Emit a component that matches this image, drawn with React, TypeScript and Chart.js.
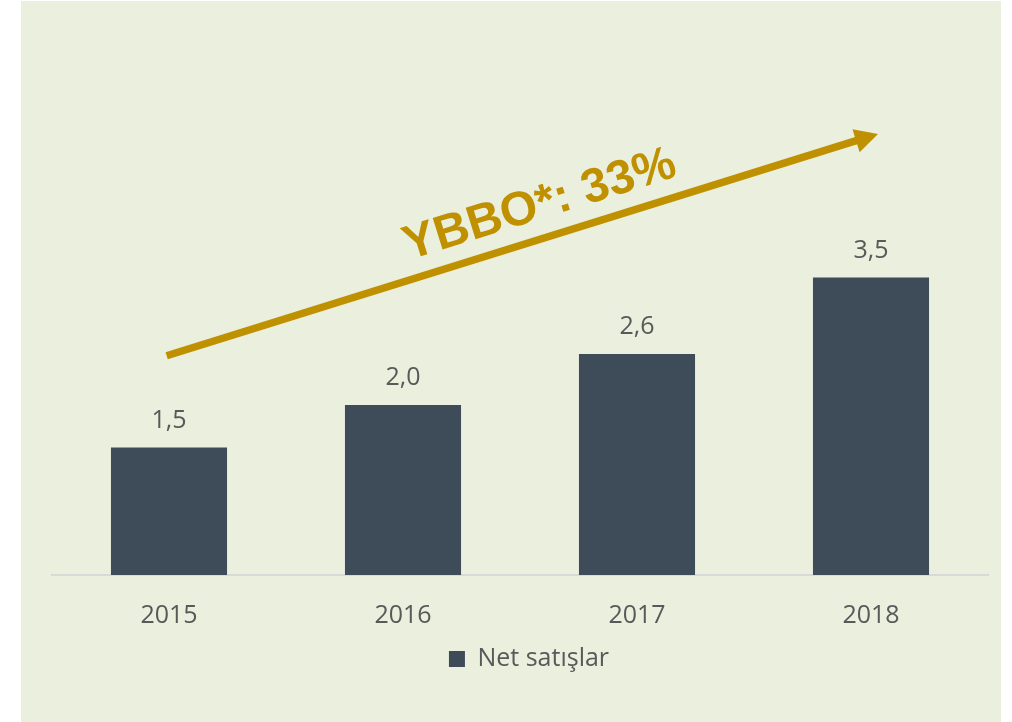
import React, { useEffect, useRef } from "react";
import { Chart, registerables } from "chart.js";

Chart.register(...registerables);

const categories: string[] = ["2015", "2016", "2017", "2018"];
const netSales: number[] = [1.5, 2.0, 2.6, 3.5];
const seriesLabel = "Net satışlar";
const growthLabel = "YBBO*: 33%";

const FONT = '"Open Sans", "DejaVu Sans", sans-serif';
const TEXT_COLOR = "#595959";
const BAR_COLOR = "#3E4C59";
const GOLD = "#BF9000";

const fmt = (v: number) => v.toFixed(1).replace(".", ",");

const panelPlugin = {
  id: "panel",
  beforeDraw(chart: any) {
    const ctx = chart.ctx;
    ctx.save();
    ctx.fillStyle = "#FFFFFF";
    ctx.fillRect(0, 0, chart.width, chart.height);
    ctx.fillStyle = "#EBEFDE";
    ctx.fillRect(21, 1, 980, chart.height - 1);
    ctx.restore();
  },
};

const legendShiftPlugin = {
  id: "legendShift",
  afterLayout(chart: any) {
    if (chart.legend) {
      chart.legend.left += 9;
      chart.legend.right += 9;
    }
  },
};

const valueLabelPlugin = {
  id: "valueLabels",
  afterDatasetsDraw(chart: any) {
    const ctx = chart.ctx;
    const meta = chart.getDatasetMeta(0);
    const values = chart.data.datasets[0].data as number[];
    ctx.save();
    ctx.fillStyle = TEXT_COLOR;
    ctx.font = `25px ${FONT}`;
    ctx.textAlign = "center";
    ctx.textBaseline = "middle";
    meta.data.forEach((bar: any, i: number) => {
      ctx.fillText(fmt(values[i]), bar.x, bar.y - 27);
    });
    ctx.restore();
  },
};

const growthArrowPlugin = {
  id: "growthArrow",
  afterDatasetsDraw(chart: any) {
    const xs = chart.scales.x;
    const ys = chart.scales.y;
    const ctx = chart.ctx;
    // annotation anchors in (category index, value) space
    const x0 = xs.getPixelForValue(-0.01);
    const y0 = ys.getPixelForValue(2.58);
    const x1 = xs.getPixelForValue(3.03);
    const y1 = ys.getPixelForValue(5.19);
    const ang = Math.atan2(y1 - y0, x1 - x0);
    const headLen = 23;
    const headHalf = 12;
    const bx = x1 - headLen * Math.cos(ang);
    const by = y1 - headLen * Math.sin(ang);
    ctx.save();
    ctx.strokeStyle = GOLD;
    ctx.fillStyle = GOLD;
    ctx.lineWidth = 7.5;
    ctx.lineCap = "butt";
    ctx.beginPath();
    ctx.moveTo(x0, y0);
    ctx.lineTo(bx + Math.cos(ang), by + Math.sin(ang));
    ctx.stroke();
    const nx = -Math.sin(ang);
    const ny = Math.cos(ang);
    ctx.beginPath();
    ctx.moveTo(x1, y1);
    ctx.lineTo(bx + nx * headHalf, by + ny * headHalf);
    ctx.lineTo(bx - nx * headHalf, by - ny * headHalf);
    ctx.closePath();
    ctx.fill();

    const tx = xs.getPixelForValue(1.585);
    const ty = ys.getPixelForValue(4.35);
    ctx.translate(tx, ty);
    ctx.rotate(ang);
    ctx.font = `bold 48px "Liberation Sans", Arial, sans-serif`;
    ctx.textAlign = "center";
    ctx.textBaseline = "middle";
    ctx.fillText(growthLabel, 0, 0);
    ctx.restore();
  },
};

export default function App() {
  const canvasRef = useRef<HTMLCanvasElement | null>(null);

  useEffect(() => {
    if (!canvasRef.current) return;
    const chart = new Chart(canvasRef.current, {
      type: "bar",
      data: {
        labels: categories,
        datasets: [
          {
            label: seriesLabel,
            data: netSales,
            backgroundColor: BAR_COLOR,
            borderWidth: 0,
            categoryPercentage: 1,
            barPercentage: 0.496,
          },
        ],
      },
      options: {
        responsive: false,
        animation: false,
        layout: { padding: { left: 52, right: 24, top: 20, bottom: 40.5 } },
        plugins: {
          legend: {
            position: "bottom",
            labels: {
              boxWidth: 16,
              boxHeight: 16,
              padding: 10,
              color: TEXT_COLOR,
              font: { family: FONT, size: 25 },
            },
          },
          tooltip: { enabled: false },
        },
        scales: {
          x: {
            grid: { display: false },
            border: { display: true, color: "#D9D9D9", width: 2 },
            ticks: {
              color: TEXT_COLOR,
              padding: 18,
              font: { family: FONT, size: 25 },
            },
            afterFit: (scale: any) => {
              scale.height = 61.5;
            },
          },
          y: { display: false, min: 0, max: 6.53 },
        },
      },
      plugins: [panelPlugin, legendShiftPlugin, valueLabelPlugin, growthArrowPlugin],
    });
    return () => chart.destroy();
  }, []);

  return (
    <div style={{ position: "fixed", left: 0, top: 0, width: 1012, height: 722 }}>
      <canvas ref={canvasRef} width={1012} height={722} />
    </div>
  );
}
